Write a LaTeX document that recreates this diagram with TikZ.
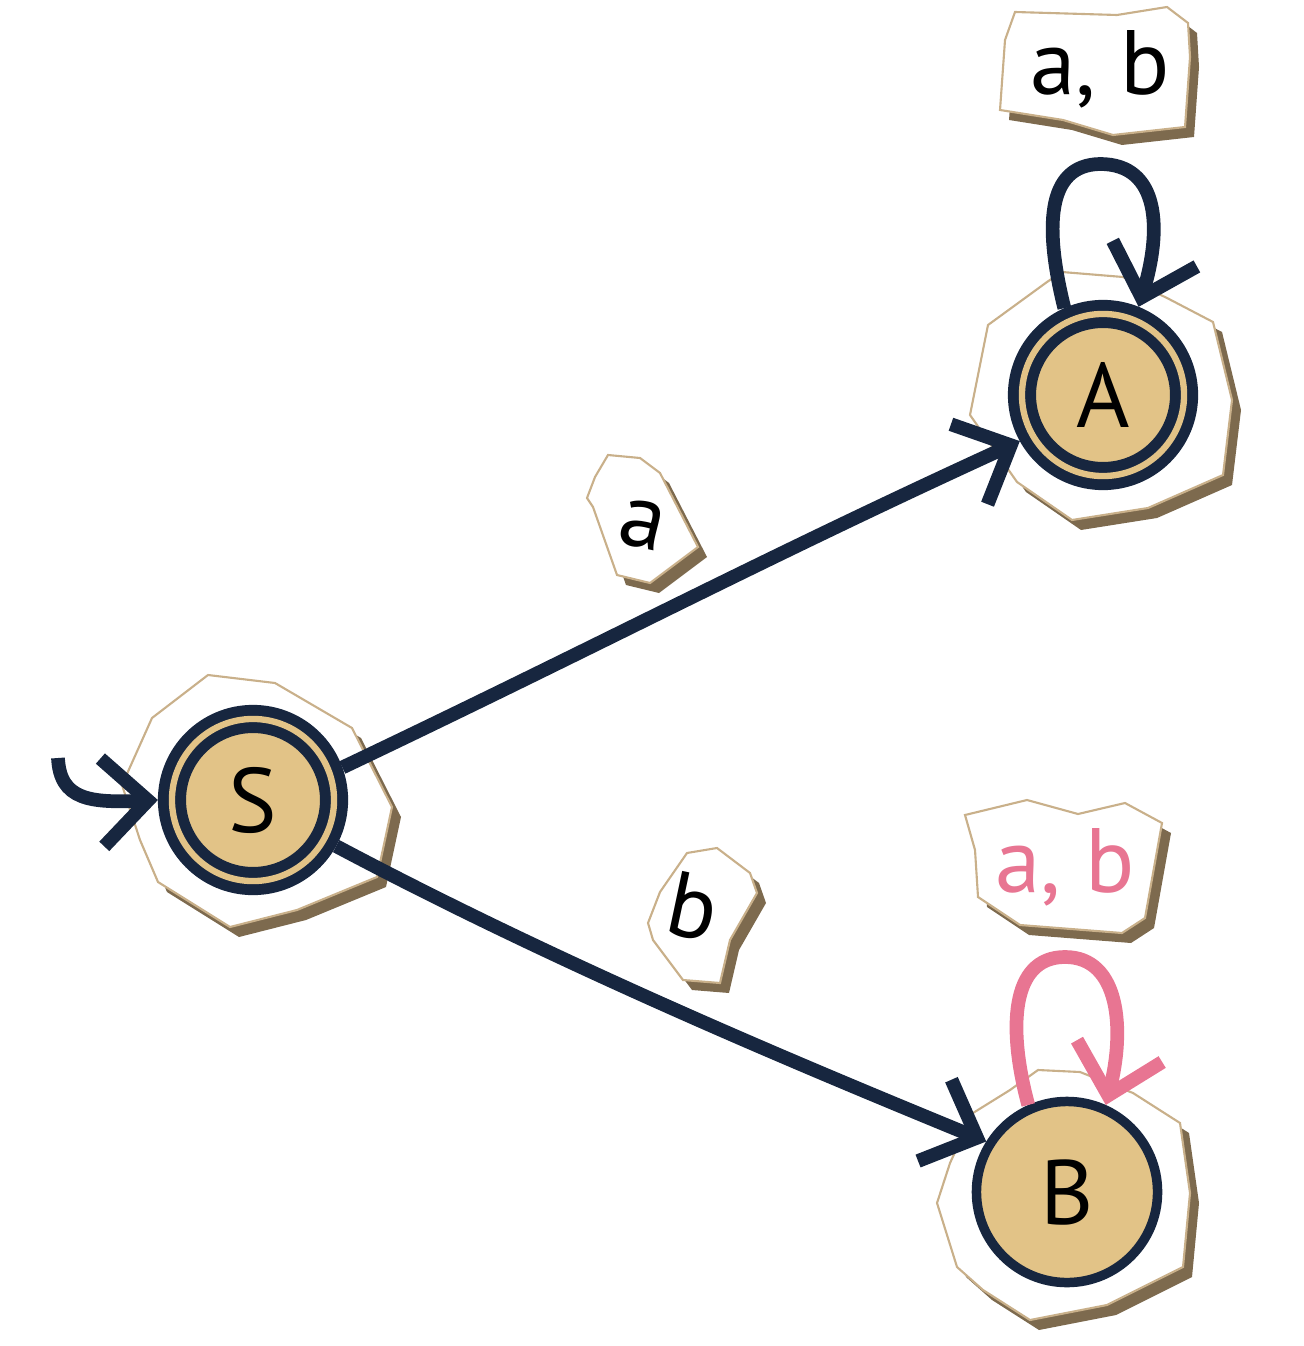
\documentclass[tikz,border=0pt]{standalone}
\usepackage{fontspec}
\setmainfont{PT Sans}
\usepackage{xcolor}
\usepackage{tikz}
\usetikzlibrary{arrows.meta}
\definecolor{navy}{HTML}{17263F}
\definecolor{sand}{HTML}{E2C387}
\definecolor{rose}{HTML}{E87592}
\definecolor{umber}{HTML}{7D6A4E}
\definecolor{paperedge}{HTML}{C9B08A}
\newcommand{\paperpatch}[1]{%
  \fill[umber, shift={(9,10)}] #1 -- cycle;
  \filldraw[fill=white, draw=paperedge, line width=0.6pt] #1 -- cycle;}

\begin{document}
\begin{tikzpicture}[x=0.01cm, y=-0.01cm,
    stnode/.style={circle, draw=navy, fill=sand, line width=2.7pt, minimum size=1.81cm, inner sep=0pt, font=\fontsize{26}{30}\selectfont},
    accept/.style={stnode, double=sand, double distance=1.8pt, line width=3.1pt, minimum size=1.62cm, outer sep=4pt},
    trans/.style={draw=navy, line width=3.9pt, -{Straight Barb[length=13pt, width=25pt, sharp]}},
    lab/.style={font=\fontsize{26}{30}\selectfont, inner sep=0pt}]
    \useasboundingbox (0,0) rectangle (1304,1346);

    % paper patches behind the states
    \paperpatch{(208,675) -- (275,683) -- (352,728) -- (392,807) -- (377,877) -- (297,910) -- (230,927) -- (158,882) -- (140,840) -- (122,785) -- (152,718)}
    \paperpatch{(988,325) -- (1047,282) -- (1062,272) -- (1123,277) -- (1167,298) -- (1213,322) -- (1232,400) -- (1223,475) -- (1148,508) -- (1072,520) -- (1017,482) -- (970,415)}
    \paperpatch{(1038,1070) -- (1080,1072) -- (1133,1093) -- (1180,1123) -- (1190,1193) -- (1183,1267) -- (1107,1305) -- (1030,1320) -- (983,1290) -- (957,1267) -- (937,1203) -- (950,1163) -- (973,1113) -- (1010,1090)}

    % paper patches behind the labels
    \paperpatch{(1005,40) -- (1015,12) -- (1117,15) -- (1167,7) -- (1188,23) -- (1190,57) -- (1185,127) -- (1113,135) -- (1063,120) -- (1000,110)}
    \paperpatch{(965,815) -- (1027,800) -- (1078,814) -- (1125,803) -- (1162,823) -- (1145,918) -- (1122,933) -- (1020,925) -- (978,897) -- (975,850)}
    \paperpatch{(595,477) -- (608,455) -- (640,458) -- (660,473) -- (698,547) -- (650,583) -- (617,575) -- (593,507) -- (587,498)}
    \paperpatch{(660,892) -- (687,853) -- (717,848) -- (750,873) -- (757,893) -- (730,940) -- (720,983) -- (683,980) -- (653,940) -- (648,923)}

    % states
    \node[accept] (S) at (253,800) {S};
    \node[accept] (A) at (1103,395) {A};
    \node[stnode] (B) at (1067,1192) {B};

    % labels
    \node[lab, anchor=base] (lA) at (1100,95) {a, b};
    \node[lab, anchor=base, text=rose] (lB) at (1065,892) {a, b};
    \node[lab, rotate=-12] (la) at (642,525) {a};
    \node[lab, rotate=-12] (lb) at (693,907) {b};

    % transitions
    \coordinate (s0) at (58,758);
    \draw[trans] (s0) .. controls (60,800) and (90,803) .. (S.west);
    \draw[trans] (S.20) .. controls (600,645) and (760,560) .. (A.209);
    \draw[trans] (S.331) .. controls (560,965) and (800,1065) .. (B.148);
    \draw[trans] (A.114) .. controls (1045,230) and (1045,165) .. (1100,164) .. controls (1160,164) and (1162,230) .. (A.68);
    \draw[trans, draw=rose] (B.114) .. controls (1008,1030) and (1010,957) .. (1065,957) .. controls (1120,957) and (1125,1030) .. (B.66);
\end{tikzpicture}
\end{document}
